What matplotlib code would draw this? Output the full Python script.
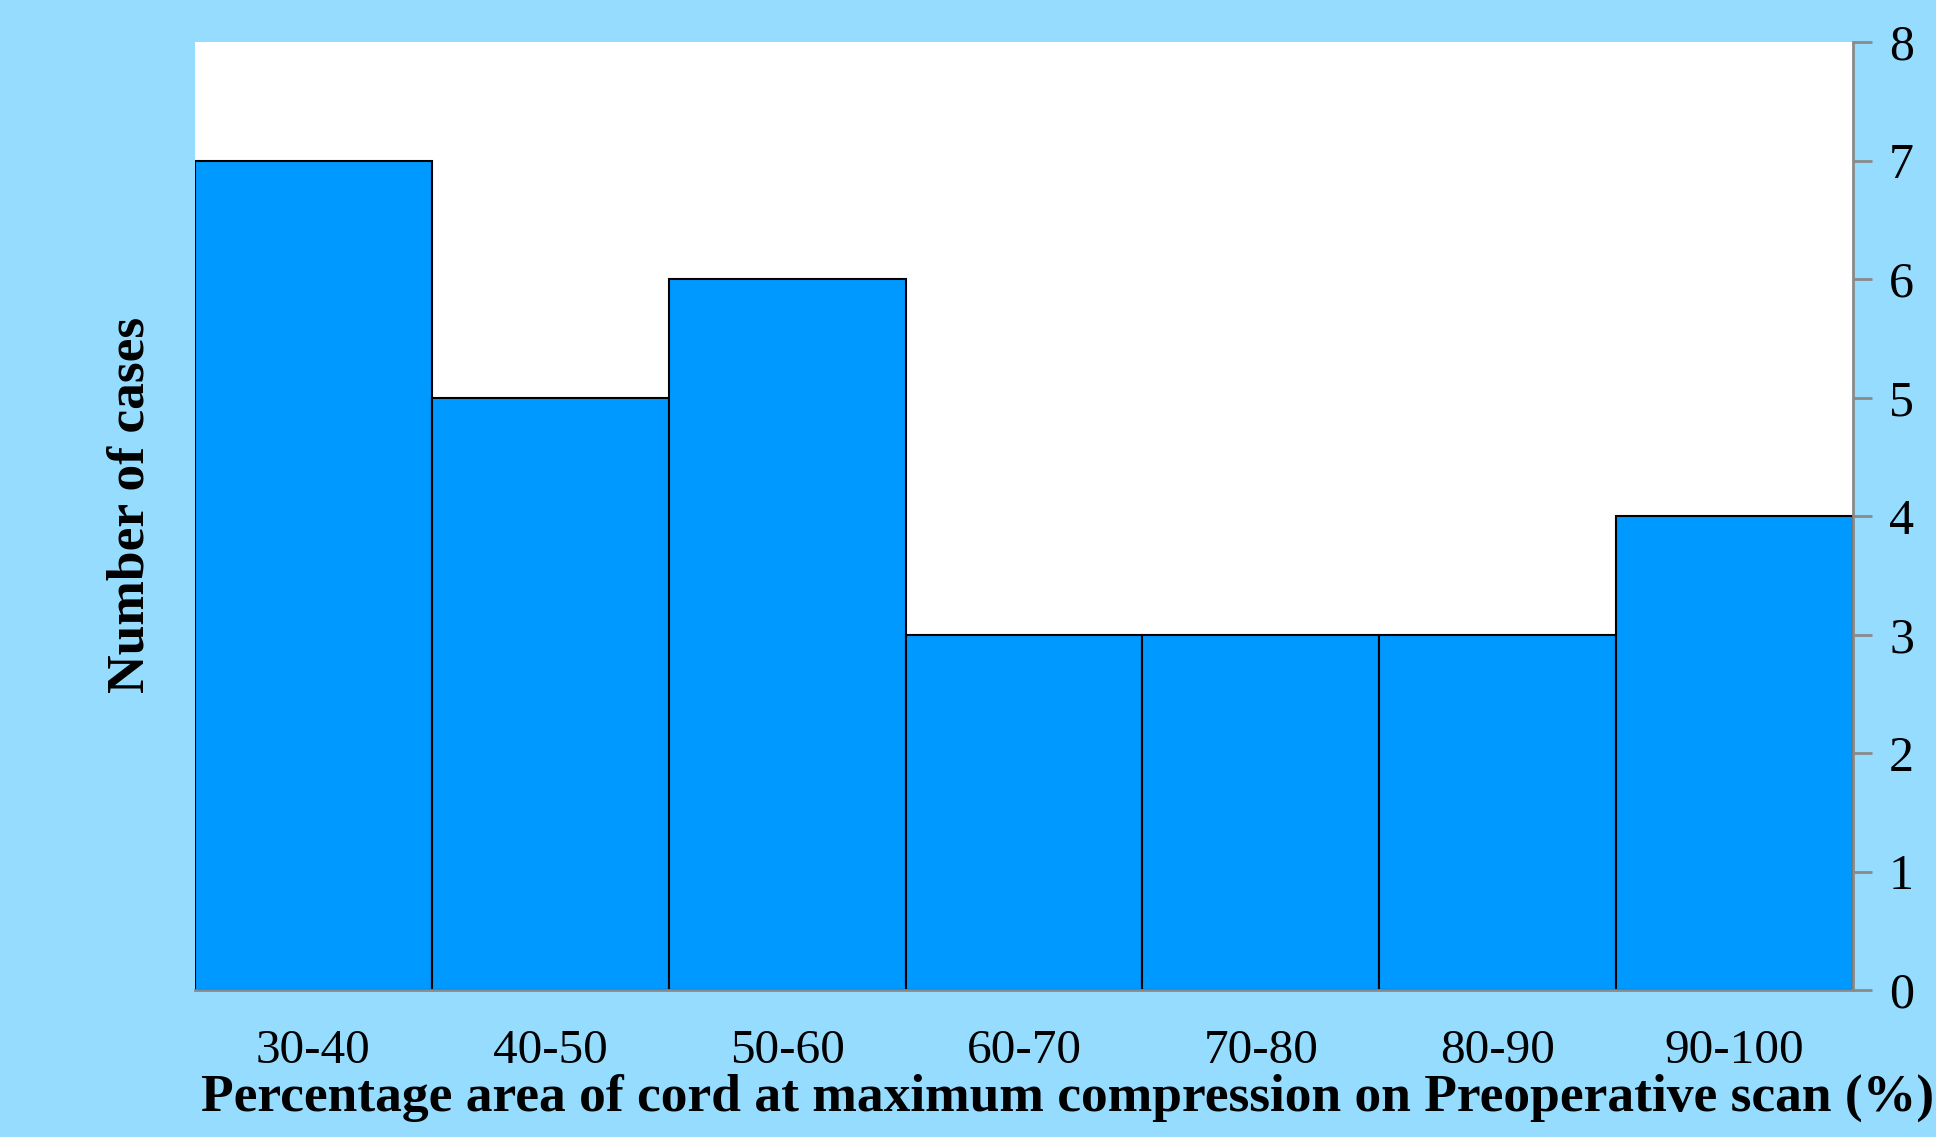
import matplotlib.pyplot as plt
import numpy as np

# histogram data
ranges = ['30-40', '40-50', '50-60', '60-70', '70-80', '80-90', '90-100']
cases = [7, 5, 6, 3, 3, 3, 4]
y_ticks = [0, 1, 2, 3, 4, 5, 6, 7, 8]

bg = '#95dcfe'
bar_color = '#0099ff'
spine_gray = '#8a8a8a'

plt.rcParams['font.family'] = ['Liberation Serif', 'DejaVu Serif']

fig = plt.figure(figsize=(19.36, 11.37), dpi=100, facecolor=bg)
ax = fig.add_axes([195 / 1936, 1 - 990 / 1137, (1853 - 195) / 1936, (990 - 42) / 1137])
ax.set_facecolor('white')

x = np.arange(len(ranges))
ax.bar(x, cases, width=1.0, color=bar_color, edgecolor='black', linewidth=1.5)

ax.set_xlim(-0.5, len(ranges) - 0.5)
ax.set_ylim(0, 8)

# y axis on the right side, grey spine and ticks
ax.yaxis.tick_right()
ax.set_yticks(y_ticks)
ax.tick_params(axis='y', length=14, width=2, color=spine_gray, labelsize=36, pad=12)
ax.set_xticks(x)
ax.set_xticklabels(ranges)
ax.tick_params(axis='x', length=0, labelsize=35.5, pad=28)

ax.spines['top'].set_visible(False)
ax.spines['left'].set_visible(False)
ax.spines['right'].set_color(spine_gray)
ax.spines['right'].set_linewidth(2)
ax.spines['bottom'].set_color(spine_gray)
ax.spines['bottom'].set_linewidth(2)

fig.text(1068 / 1936, 1 - 1098 / 1137,
         'Percentage area of cord at maximum compression on Preoperative scan (%)',
         fontsize=38.5, fontweight='bold', ha='center', va='center')
fig.text(130 / 1936, 1 - 505 / 1137, 'Number of cases', fontsize=38.5,
         fontweight='bold', rotation=90, ha='center', va='center')

plt.savefig('out.png', dpi=100, facecolor=bg)
